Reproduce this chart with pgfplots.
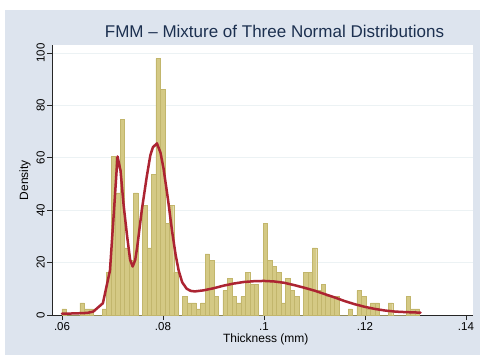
\documentclass[border=0pt]{standalone}
\usepackage{pgfplots}
\usepackage{pgfplotstable}
\pgfplotsset{compat=1.18}
\usepackage{fontspec}
\setmainfont{Liberation Sans}

\definecolor{bgblue}{RGB}{221,228,238}
\definecolor{barfill}{RGB}{212,201,132}
\definecolor{bardraw}{RGB}{194,182,108}
\definecolor{curvered}{RGB}{172,36,50}
\definecolor{titlecol}{RGB}{28,48,80}
\definecolor{gridcol}{RGB}{236,242,244}

% histogram of thickness: left bin edge, density (last row closes the final bin)
\pgfplotstableread{
left density
0.060000 2.33
0.060885 0
0.061770 0
0.062655 0
0.063540 4.66
0.064425 2.33
0.065310 2.33
0.066195 0
0.067080 0
0.067965 2.33
0.068850 16.31
0.069735 60.58
0.070620 46.60
0.071505 74.56
0.072390 25.63
0.073275 20.97
0.074160 46.60
0.075045 0
0.075930 41.94
0.076815 25.63
0.077700 53.59
0.078585 97.86
0.079470 86.21
0.080355 34.95
0.081240 41.94
0.082125 16.31
0.083010 0
0.083895 6.99
0.084780 4.66
0.085665 4.66
0.086550 2.33
0.087435 4.66
0.088320 23.30
0.089205 20.97
0.090090 6.99
0.090975 0
0.091860 9.32
0.092745 13.98
0.093630 6.99
0.094515 4.66
0.095400 6.99
0.096285 16.31
0.097170 11.65
0.098055 11.65
0.098940 0
0.099825 34.95
0.100710 20.97
0.101595 18.64
0.102480 16.31
0.103365 4.66
0.104250 13.98
0.105135 9.32
0.106020 6.99
0.106905 0
0.107790 16.31
0.108675 16.31
0.109560 25.63
0.110445 9.32
0.111330 11.65
0.112215 6.99
0.113100 6.99
0.113985 6.99
0.114870 0
0.115755 0
0.116640 2.33
0.117525 0
0.118410 9.32
0.119295 6.99
0.120180 2.33
0.121065 4.66
0.121950 4.66
0.122835 0
0.123720 0
0.124605 4.66
0.125490 0
0.126375 0
0.127260 0
0.128145 6.99
0.129030 2.33
0.129915 2.33
0.130800 0
}\thickhist

% fitted mixture density
\pgfplotstableread{
x dens
0.0600 0.5
0.0625 0.6
0.0650 0.8
0.0662 1.3
0.0681 4.5
0.0695 17
0.0703 40
0.0710 60.5
0.0716 55
0.0722 42
0.0729 30
0.0735 21
0.0740 18.5
0.0745 21
0.0749 26
0.0758 40
0.0768 53
0.0775 61
0.0780 64
0.0788 65.5
0.0795 62
0.0801 56
0.0810 44
0.0818 32
0.0825 23
0.0831 17
0.0838 12.5
0.0847 10
0.0855 9.2
0.0863 9
0.0880 9.4
0.0900 10.2
0.0920 11.2
0.0940 12
0.0960 12.6
0.0980 12.9
0.1000 13
0.1020 12.8
0.1040 12.3
0.1060 11.4
0.1080 10.4
0.1100 9.3
0.1120 8.0
0.1140 6.7
0.1160 5.3
0.1180 4.1
0.1200 3.1
0.1220 2.3
0.1240 1.7
0.1260 1.3
0.1280 1.1
0.1310 0.9
}\mixdens

\begin{document}
\begin{tikzpicture}
\useasboundingbox (0bp,0bp) rectangle (482bp,-355bp);
\fill[white] (0bp,0bp) rectangle (482bp,-355bp);
\fill[bgblue] (5bp,-10bp) rectangle (480bp,-355bp);
\node[font=\fontsize{17bp}{20bp}\selectfont, text=titlecol] at (274.5bp,-31bp)
  {FMM – Mixture of Three Normal Distributions};
\begin{axis}[
  at={(52.5bp,-315bp)}, anchor=south west,
  scale only axis, width=420.5bp, height=270bp,
  xmin=0.05812, xmax=0.14139, ymin=0, ymax=103.05,
  axis x line*=bottom, axis y line*=left,
  axis line style={-, draw=black!85, line width=0.6bp},
  axis background/.style={fill=white},
  tick align=outside, major tick length=5bp,
  tick style={black!85, line width=0.6bp},
  xtick={0.06,0.08,0.1,0.12,0.14}, xticklabels={.06,.08,.1,.12,.14},
  ytick={0,20,40,60,80,100}, yticklabels={0,20,40,60,80,100},
  minor tick num=0,
  ymajorgrids, grid style={gridcol, line width=0.9bp},
  ticklabel style={font=\fontsize{11.5bp}{13bp}\selectfont, text=black},
  yticklabel style={rotate=90, anchor=south, inner sep=2.5bp},
  xticklabel style={inner sep=2.5bp},
  xlabel={Thickness (mm)}, ylabel={Density},
  label style={font=\fontsize{12bp}{14bp}\selectfont, text=black},
  xlabel style={at={(axis description cs:0.507,-0.089)}, anchor=center},
  ylabel style={at={(axis description cs:-0.0654,0.5)}, anchor=center, rotate=0},
  clip=false,
]
\addplot[ybar interval, fill=barfill, draw=bardraw, line width=0.4bp]
  table[x=left, y=density] {\thickhist};
\addplot[curvered, line width=2.5bp, line join=round, line cap=round, mark=none]
  table[x=x, y=dens] {\mixdens};
\end{axis}
\end{tikzpicture}
\end{document}
